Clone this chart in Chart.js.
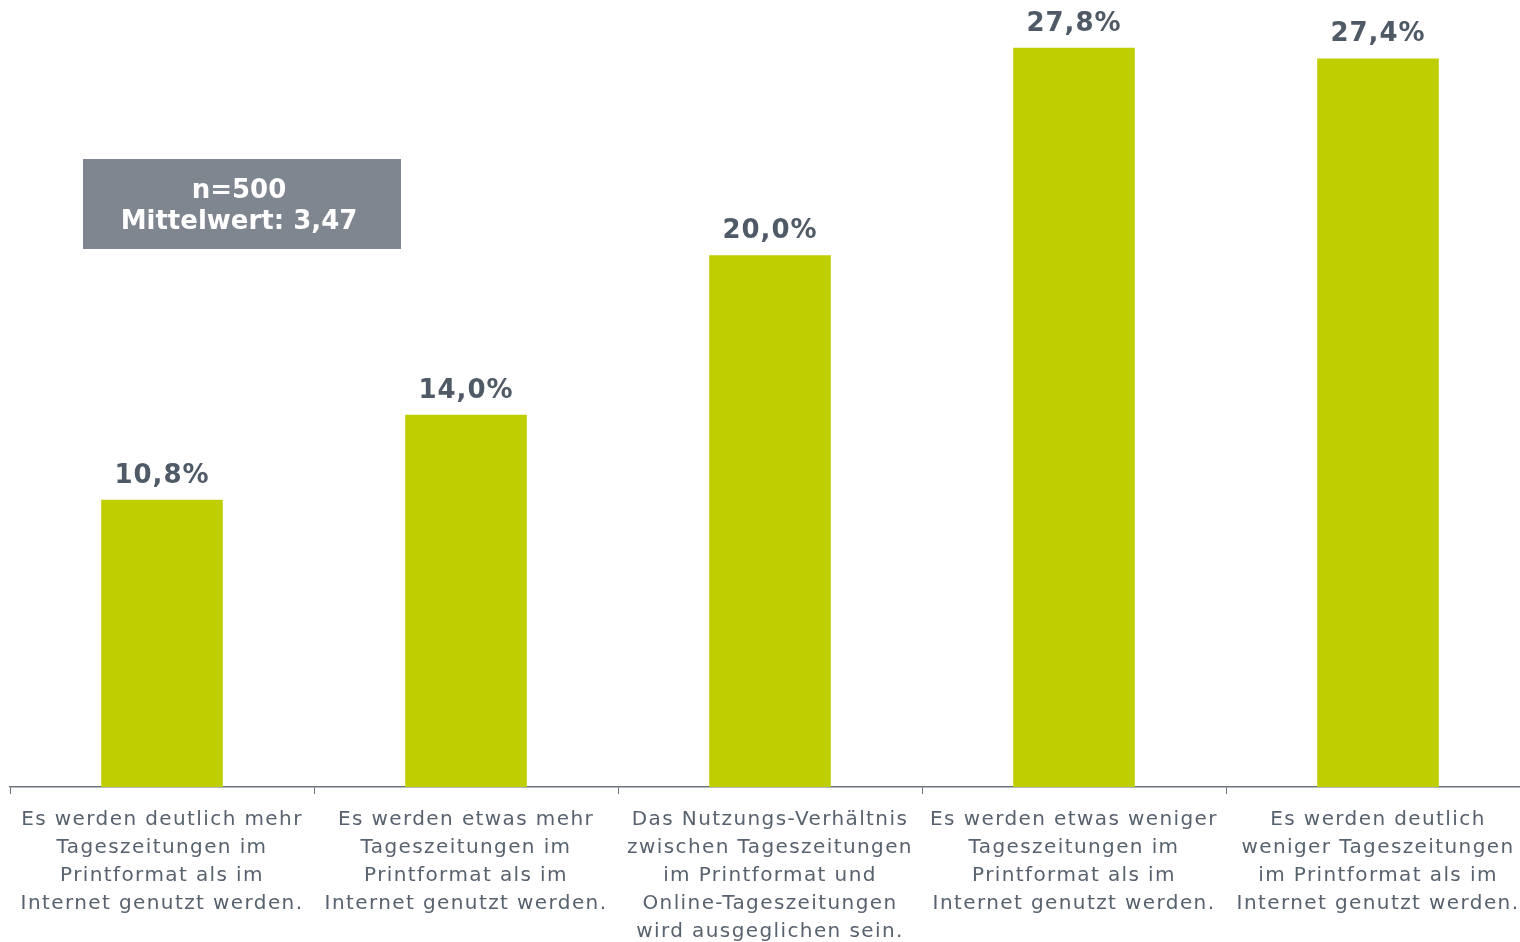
<!DOCTYPE html>
<html>
<head>
<meta charset="utf-8">
<script src="https://cdn.jsdelivr.net/npm/chart.js@4/dist/chart.umd.min.js"></script>
<style>
    html, body { margin: 0; padding: 0; background: #fff; overflow: hidden; }
    #wrap { width: 1530px; height: 942px; }
</style>
</head>
<body>
<div id="wrap"><canvas id="chart"></canvas></div>
<script>
const categories = [
    ['Es werden deutlich mehr', 'Tageszeitungen im', 'Printformat als im', 'Internet genutzt werden.'],
    ['Es werden etwas mehr', 'Tageszeitungen im', 'Printformat als im', 'Internet genutzt werden.'],
    ['Das Nutzungs-Verhältnis', 'zwischen Tageszeitungen', 'im Printformat und', 'Online-Tageszeitungen', 'wird ausgeglichen sein.'],
    ['Es werden etwas weniger', 'Tageszeitungen im', 'Printformat als im', 'Internet genutzt werden.'],
    ['Es werden deutlich', 'weniger Tageszeitungen', 'im Printformat als im', 'Internet genutzt werden.']
];
const shares = [10.8, 14.0, 20.0, 27.8, 27.4];
const infoLines = ['n=500', 'Mittelwert: 3,47'];

const barColor = '#bfce00';
const textColor = '#58626e';

// wider tracking for the axis labels, like the original
const spacing = {
    id: 'spacing',
    beforeDraw(chart) {
        chart.ctx.letterSpacing = '1.4px';
    }
};

const valueLabels = {
    id: 'valueLabels',
    afterDatasetsDraw(chart) {
        const ctx = chart.ctx;
        const meta = chart.getDatasetMeta(0);
        ctx.save();
        ctx.letterSpacing = '1px';
        ctx.font = 'bold 26px "DejaVu Sans"';
        ctx.fillStyle = '#4f5a66';
        ctx.textAlign = 'center';
        ctx.textBaseline = 'middle';
        meta.data.forEach((bar, i) => {
            ctx.fillText(shares[i].toFixed(1).replace('.', ',') + '%', bar.x, bar.y - 24);
        });
        ctx.restore();
    }
};

const infoBox = {
    id: 'infoBox',
    afterDraw(chart) {
        const ctx = chart.ctx;
        ctx.save();
        ctx.letterSpacing = '0px';
        ctx.fillStyle = '#7f8690';
        ctx.fillRect(83, 159, 318, 90);
        ctx.font = 'bold 26px "DejaVu Sans"';
        ctx.fillStyle = '#ffffff';
        ctx.textAlign = 'center';
        ctx.textBaseline = 'middle';
        infoLines.forEach((line, i) => {
            ctx.fillText(line, 239, 191 + i * 31);
        });
        ctx.restore();
    }
};

new Chart(document.getElementById('chart').getContext('2d'), {
    type: 'bar',
    data: {
        labels: categories,
        datasets: [{
            data: shares,
            backgroundColor: barColor,
            borderWidth: 0,
            barPercentage: 0.4,
            categoryPercentage: 1.0
        }]
    },
    options: {
        responsive: true,
        maintainAspectRatio: false,
        animation: false,
        layout: { padding: { left: 10, right: 0, top: 0, bottom: 0 } },
        plugins: {
            legend: { display: false },
            tooltip: { enabled: false }
        },
        scales: {
            x: {
                afterFit(scale) { scale.height = 155; },
                grid: {
                    offset: true,
                    drawOnChartArea: false,
                    drawTicks: true,
                    tickLength: 7,
                    color: '#6b737d',
                    lineWidth: 1
                },
                border: { color: '#6b737d', width: 1.5 },
                ticks: {
                    color: textColor,
                    font: { family: '"DejaVu Sans"', size: 20, lineHeight: 1.4 },
                    padding: 12,
                    maxRotation: 0,
                    autoSkip: false
                }
            },
            y: {
                display: false,
                min: 0,
                max: 29.6
            }
        }
    },
    plugins: [spacing, valueLabels, infoBox]
});
</script>
</body>
</html>
